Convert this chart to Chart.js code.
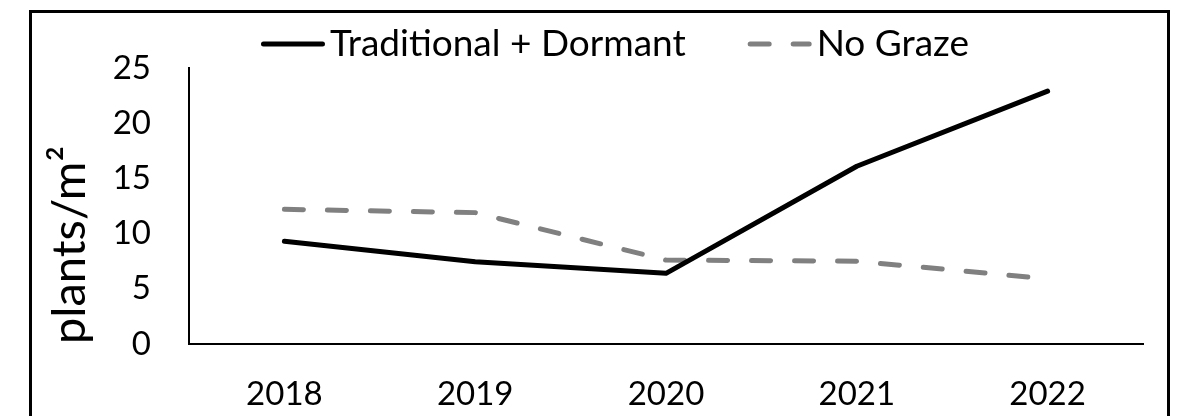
<!DOCTYPE html>
<html>
<head>
<meta charset="utf-8">
<script src="https://cdn.jsdelivr.net/npm/chart.js@4"></script>
<style>
    html, body { margin: 0; padding: 0; background: #fff; overflow: hidden; }
    #wrap { position: relative; width: 1179px; height: 416px; }
    #frame {
        position: absolute; left: 29px; top: 10px;
        width: 1135px; height: 500px;
        border: 3px solid #000; pointer-events: none;
    }
</style>
</head>
<body>
<div id="wrap">
    <canvas id="chart" width="1179" height="416"></canvas>
    <div id="frame"></div>
</div>
<script>
// Data
const years = ['2018', '2019', '2020', '2021', '2022'];
const traditionalDormant = [9.3, 7.45, 6.4, 16.1, 22.9];
const noGraze = [12.2, 11.9, 7.6, 7.5, 5.9];
const yTicks = [0, 5, 10, 15, 20, 25];

const FONT = 'Lato, "Open Sans", sans-serif';

// Legend drawn like Excel's: line sample right next to its text
const lineLegend = {
    id: 'lineLegend',
    afterDraw: function(chart) {
        const c = chart.ctx;
        const y = 44;
        const sample = 64, gapText = 5, gapItem = 62;
        c.save();
        c.font = '37px ' + FONT;
        c.textBaseline = 'middle';
        const items = chart.data.datasets.map(ds => ({ ds: ds, w: c.measureText(ds.label).width }));
        const total = items.reduce((s, it) => s + sample + gapText + it.w, 0) + gapItem * (items.length - 1);
        let x = 615 - total / 2;
        items.forEach(it => {
            c.beginPath();
            c.lineWidth = it.ds.borderWidth;
            c.strokeStyle = it.ds.borderColor;
            c.lineCap = 'round';
            c.setLineDash(it.ds.borderDash || []);
            c.moveTo(x + 2.5, y);
            c.lineTo(x + sample - 2.5, y);
            c.stroke();
            c.setLineDash([]);
            c.fillStyle = '#000';
            c.fillText(it.ds.label, x + sample + gapText, y);
            x += sample + gapText + it.w + gapItem;
        });
        c.restore();
    }
};

const ctx = document.getElementById('chart').getContext('2d');

new Chart(ctx, {
    type: 'line',
    data: {
        labels: years,
        datasets: [{
            label: 'Traditional + Dormant',
            data: traditionalDormant,
            borderColor: '#000000',
            backgroundColor: '#000000',
            borderWidth: 5,
            pointRadius: 0,
            tension: 0,
            borderCapStyle: 'round',
            borderJoinStyle: 'round'
        }, {
            label: 'No Graze',
            data: noGraze,
            borderColor: '#808080',
            backgroundColor: '#808080',
            borderWidth: 5,
            borderDash: [19, 24],
            borderCapStyle: 'round',
            pointRadius: 0,
            tension: 0
        }]
    },
    options: {
        responsive: false,
        animation: false,
        layout: {
            padding: { left: 0, right: 36, top: 68, bottom: 0 }
        },
        plugins: {
            tooltip: { enabled: false },
            legend: { display: false }
        },
        scales: {
            x: {
                offset: true,
                afterFit: function(scale) { scale.height = 72; },
                grid: { display: false, drawTicks: false },
                border: { display: true, color: '#000', width: 2 },
                ticks: {
                    color: '#000',
                    padding: 31,
                    maxRotation: 0,
                    font: { family: FONT, size: 33 }
                }
            },
            y: {
                min: 0,
                max: 25,
                afterFit: function(scale) { scale.width = 189; },
                afterBuildTicks: function(scale) {
                    scale.ticks = yTicks.map(v => ({ value: v }));
                },
                grid: { display: false, drawTicks: false },
                border: { display: true, color: '#000', width: 2 },
                ticks: {
                    color: '#000',
                    padding: 38,
                    autoSkip: false,
                    font: { family: FONT, size: 33 }
                },
                title: {
                    display: true,
                    text: 'plants/m\u00B2',
                    align: 'start',
                    color: '#000',
                    padding: { top: 42, bottom: 0 },
                    font: { family: FONT, size: 47 }
                }
            }
        }
    },
    plugins: [lineLegend]
});
</script>
</body>
</html>
